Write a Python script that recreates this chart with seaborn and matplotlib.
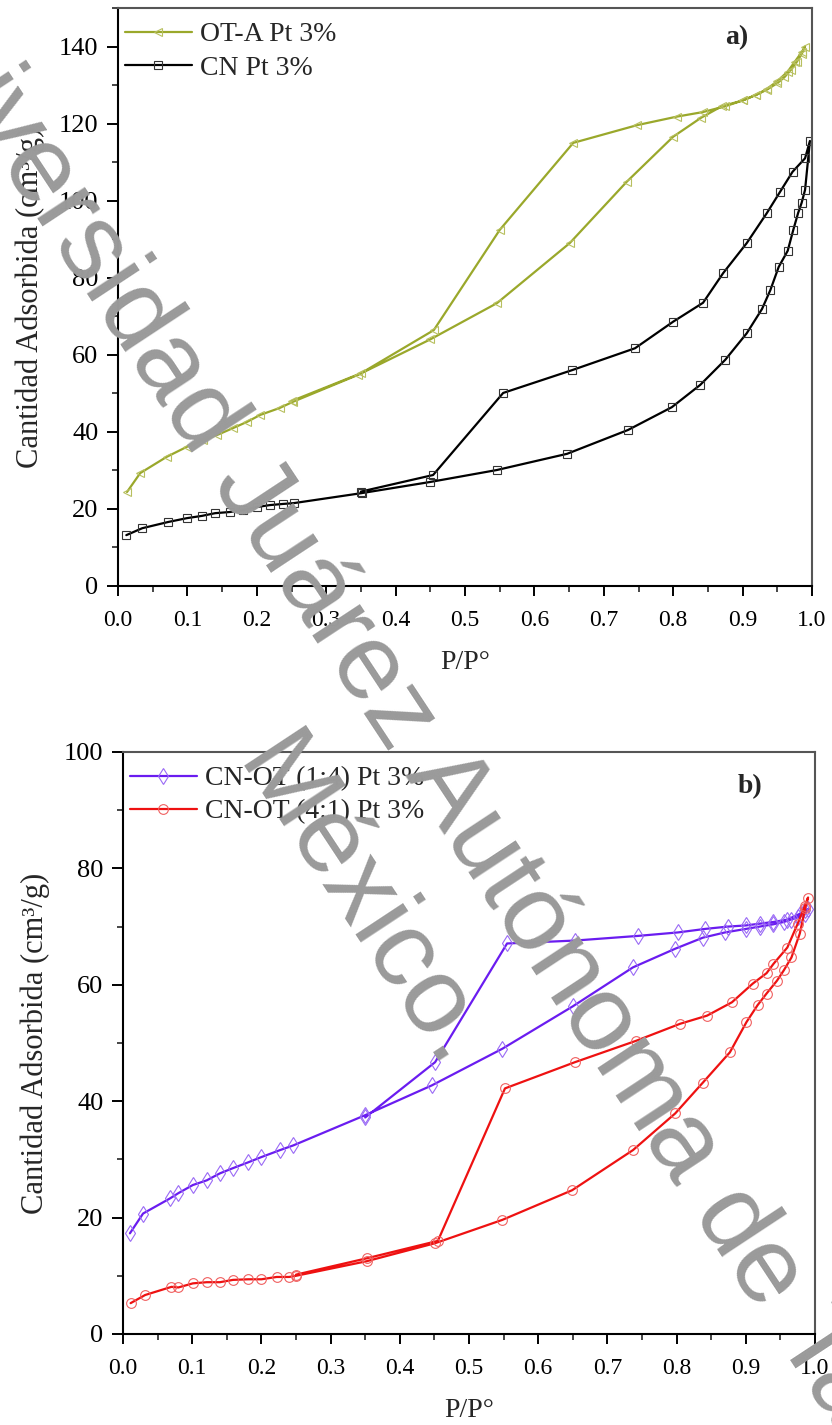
import matplotlib
matplotlib.use("Agg")
import matplotlib.pyplot as plt
from matplotlib.ticker import MultipleLocator
import seaborn as sns

# --- data (P/P° vs adsorbed volume, adsorption then desorption) ---

# panel a) OT-A Pt 3%
ota_p = [0.013, 0.032, 0.07, 0.099, 0.123, 0.143, 0.166, 0.186, 0.205, 0.233, 0.252,
         0.346, 0.45, 0.546, 0.651, 0.733, 0.80, 0.84, 0.87, 0.90, 0.92, 0.935, 0.95,
         0.96, 0.97, 0.978, 0.985, 0.99,
         0.985, 0.975, 0.965, 0.95, 0.935, 0.92, 0.90, 0.875, 0.843, 0.805, 0.748,
         0.656, 0.55, 0.455, 0.35, 0.25]
ota_v = [24.4, 29.3, 33.5, 36.1, 37.9, 39.2, 41.0, 42.6, 44.4, 46.2, 47.8,
         54.8, 64.0, 73.4, 89.0, 104.9, 116.6, 121.5, 124.5, 126.0, 127.5, 128.8, 130.5,
         132.0, 134.0, 136.0, 138.0, 140.0,
         138.5, 136.0, 133.5, 131.0, 129.0, 127.5, 126.0, 124.5, 123.0, 121.8, 119.6,
         115.0, 92.4, 66.4, 55.2, 48.0]

# panel a) CN Pt 3%
cn_p = [0.012, 0.035, 0.072, 0.099, 0.121, 0.14, 0.161, 0.18, 0.2, 0.219, 0.238, 0.253,
        0.351, 0.45, 0.546, 0.647, 0.735, 0.798, 0.839, 0.875, 0.906, 0.928, 0.94,
        0.952, 0.965, 0.973, 0.98, 0.985, 0.99, 0.997,
        0.99, 0.972, 0.954, 0.935, 0.906, 0.872, 0.843, 0.80, 0.745, 0.654, 0.555,
        0.454, 0.35]
cn_v = [13.2, 15.0, 16.6, 17.6, 18.2, 18.9, 19.2, 19.7, 20.5, 21.0, 21.3, 21.5,
        24.1, 27.0, 30.1, 34.3, 40.5, 46.4, 52.2, 58.7, 65.6, 71.9, 76.8,
        82.8, 87.0, 92.4, 96.8, 99.4, 102.8, 115.5,
        111.0, 107.5, 102.3, 96.8, 89.0, 81.2, 73.5, 68.6, 61.7, 56.0, 50.1,
        28.8, 24.5]

# panel b) CN-OT (1:4) Pt 3%
m14_p = [0.01, 0.029, 0.068, 0.08, 0.101, 0.121, 0.14, 0.159, 0.181, 0.2, 0.227, 0.246,
         0.35, 0.446, 0.548, 0.65, 0.737, 0.798, 0.838, 0.87, 0.9, 0.92, 0.94, 0.955,
         0.965, 0.975, 0.985, 0.99,
         0.985, 0.978, 0.96, 0.94, 0.92, 0.90, 0.874, 0.841, 0.802, 0.744, 0.653,
         0.555, 0.451, 0.35]
m14_v = [17.3, 20.7, 23.3, 24.2, 25.6, 26.4, 27.6, 28.5, 29.5, 30.4, 31.6, 32.4,
         37.6, 42.7, 49.0, 56.3, 63.0, 66.2, 68.1, 69.0, 69.6, 70.0, 70.4, 70.8,
         71.2, 71.6, 72.2, 73.0,
         72.8, 72.2, 71.2, 70.8, 70.5, 70.2, 70.0, 69.6, 69.0, 68.4, 67.6,
         67.1, 46.7, 37.2]

# panel b) CN-OT (4:1) Pt 3%
m41_p = [0.011, 0.032, 0.07, 0.08, 0.101, 0.121, 0.14, 0.159, 0.181, 0.2, 0.222, 0.24,
         0.25, 0.352, 0.451, 0.548, 0.649, 0.737, 0.798, 0.838, 0.877, 0.901, 0.917,
         0.93, 0.945, 0.955, 0.966, 0.978, 0.986, 0.99,
         0.985, 0.975, 0.96, 0.94, 0.93, 0.91, 0.88, 0.844, 0.805, 0.742, 0.653,
         0.552, 0.455, 0.352, 0.25]
m41_v = [5.3, 6.7, 8.1, 8.0, 8.7, 8.9, 8.9, 9.3, 9.4, 9.4, 9.8, 9.8,
         10.0, 12.5, 15.6, 19.6, 24.7, 31.6, 37.9, 43.2, 48.4, 53.6, 56.5,
         58.5, 60.7, 62.5, 64.7, 68.8, 73.2, 75.0,
         73.5, 70.5, 66.4, 63.6, 62.0, 60.2, 57.0, 54.7, 53.3, 50.4, 46.7,
         42.2, 16.0, 13.0, 10.2]

x_ticks = [0.0, 0.1, 0.2, 0.3, 0.4, 0.5, 0.6, 0.7, 0.8, 0.9, 1.0]
y_ticks_a = [0, 20, 40, 60, 80, 100, 120, 140]
y_ticks_b = [0, 20, 40, 60, 80, 100]

# --- style ---
sns.set_style("ticks")
plt.rcParams["font.family"] = ["Liberation Serif", "DejaVu Serif"]

fig = plt.figure(figsize=(8.32, 14.25), dpi=100)
ax1 = fig.add_axes([118 / 832, 1 - 586 / 1425, 694 / 832, 578 / 1425])
ax2 = fig.add_axes([123 / 832, 1 - 1334 / 1425, 692 / 832, 582 / 1425])

ln = dict(sort=False, estimator=None, linewidth=1.6, markerfacecolor="none")

sns.lineplot(x=ota_p, y=ota_v, ax=ax1, color="#9aa82b", marker="<", markersize=6,
             markeredgecolor="#b8c060", markeredgewidth=0.8, label="OT-A Pt 3%", **ln)
sns.lineplot(x=cn_p, y=cn_v, ax=ax1, color="black", marker="s", markersize=6,
             markeredgecolor="#333333", markeredgewidth=0.8, label="CN Pt 3%", **ln)

sns.lineplot(x=m14_p, y=m14_v, ax=ax2, color="#6a1cf0", marker="d", markersize=8,
             markeredgecolor="#9a6af5", markeredgewidth=0.8, label="CN-OT (1:4) Pt 3%", **ln)
sns.lineplot(x=m41_p, y=m41_v, ax=ax2, color="#ee1111", marker="o", markersize=7,
             markeredgecolor="#f06060", markeredgewidth=0.8, label="CN-OT (4:1) Pt 3%", **ln)

panels = [(ax1, 150, y_ticks_a, "a)", (0.892, 0.948)),
          (ax2, 100, y_ticks_b, "b)", (0.906, 0.94))]
for ax, ytop, yt, tag, tagpos in panels:
    ax.set_xlim(0, 1.0)
    ax.set_ylim(0, ytop)
    ax.set_xticks(x_ticks)
    ax.set_xticklabels([f"{t:.1f}" for t in x_ticks])
    ax.set_yticks(yt)
    ax.xaxis.set_minor_locator(MultipleLocator(0.05))
    ax.yaxis.set_minor_locator(MultipleLocator(10))
    ax.tick_params(axis="x", which="major", labelsize=17, length=7, width=1.4,
                   direction="out", colors="black", pad=10)
    ax.tick_params(axis="y", which="major", labelsize=19, length=8, width=1.4,
                   direction="out", colors="black", pad=6)
    ax.tick_params(which="minor", length=4, width=1.2, direction="out")
    for side in ["left", "bottom"]:
        ax.spines[side].set_color("black")
        ax.spines[side].set_linewidth(1.5)
    for side in ["top", "right"]:
        ax.spines[side].set_visible(True)
        ax.spines[side].set_color("#555555")
        ax.spines[side].set_linewidth(1.5)
    ax.set_xlabel("P/P°", fontsize=20, labelpad=14)
    ax.set_ylabel("Cantidad Adsorbida (cm³/g)", fontsize=22, labelpad=10)
    ax.text(tagpos[0], tagpos[1], tag, transform=ax.transAxes, fontsize=20,
            fontweight="bold", ha="center", va="center")
    ax.legend(loc="upper left", bbox_to_anchor=(0, 0.988), frameon=False, fontsize=20,
              handlelength=2.4, handletextpad=0.3, borderaxespad=0.15, borderpad=0.1,
              labelspacing=0.28)

# watermark
wm = dict(fontsize=78, color="#9a9a9a", family="Liberation Sans", rotation=-56.6,
          rotation_mode="anchor", ha="center", va="center", zorder=10)
fig.text(470 / 832, 1 - 824 / 1425, "Universidad Juárez Autónoma de Tabasco.", **wm)
fig.text(360 / 832, 1 - 905 / 1425, "México.", **wm)

fig.savefig("out.png", dpi=100)
